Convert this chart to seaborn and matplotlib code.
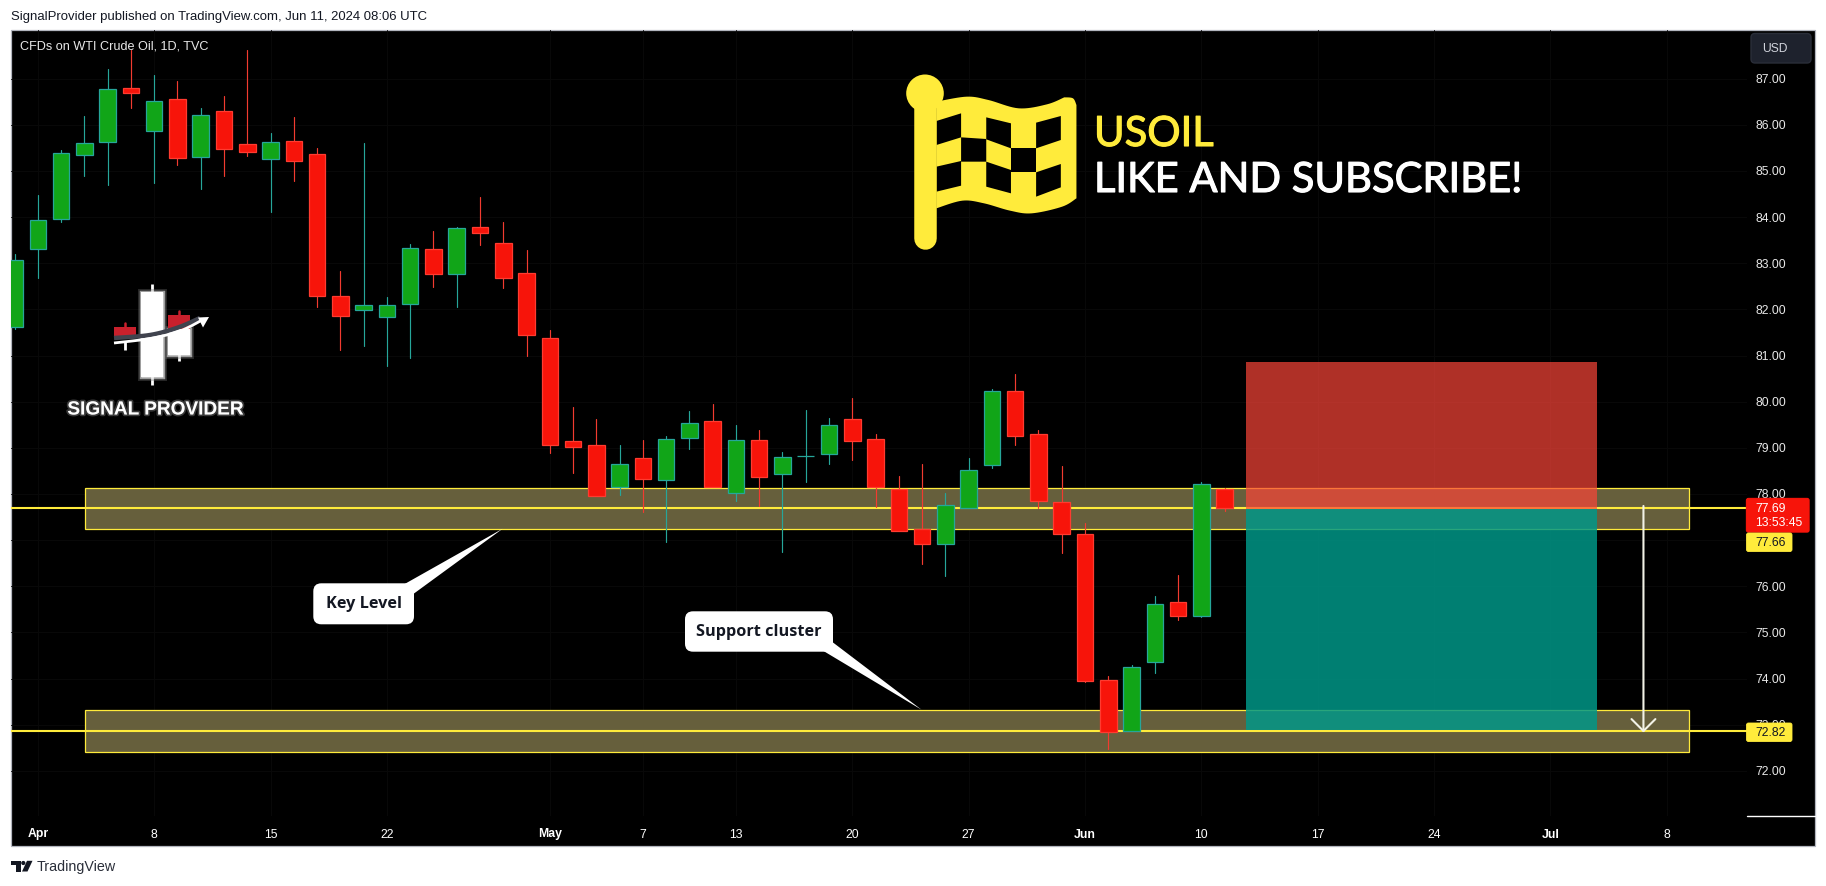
import numpy as np
import pandas as pd
import matplotlib
matplotlib.use("Agg")
import matplotlib.pyplot as plt
import matplotlib.patheffects as pe
from matplotlib.patches import Rectangle, FancyBboxPatch, Polygon, Circle
import seaborn as sns

# ---- data -----------------------------------------------------------------
bar_index = list(range(-6, 47))
body_top = [83.08, 83.93, 85.40, 85.60, 86.77, 86.79, 86.51, 86.55, 86.21, 86.29,
            85.58, 85.62, 85.66, 85.36, 82.28, 82.09, 82.09, 83.34, 83.32, 83.76,
            83.78, 83.45, 82.78, 81.39, 79.14, 79.07, 78.64, 78.79, 79.20, 79.53,
            79.59, 79.16, 79.18, 78.81, 78.83, 79.49, 79.62, 79.20, 78.10, 77.25,
            77.77, 78.53, 80.24, 80.24, 79.29, 77.82, 77.14, 73.96, 74.26, 75.61,
            75.65, 78.21, 78.10]
body_bot = [81.62, 83.30, 83.97, 85.35, 85.63, 86.68, 85.87, 85.29, 85.31, 85.48,
            85.42, 85.27, 85.22, 82.28, 81.86, 81.99, 81.84, 82.12, 82.77, 82.77,
            83.66, 82.67, 81.45, 79.07, 79.02, 77.95, 78.16, 78.33, 78.31, 79.22,
            78.16, 78.03, 78.37, 78.44, 78.83, 78.87, 79.15, 78.16, 77.20, 76.92,
            76.92, 77.70, 78.63, 79.26, 77.84, 77.14, 73.95, 72.85, 72.86, 74.35,
            75.36, 75.36, 77.70]
high = [83.20, 84.48, 85.45, 86.19, 87.21, 87.62, 87.08, 86.95, 86.36, 86.62,
        87.62, 85.82, 86.17, 85.50, 82.83, 85.60, 82.27, 83.42, 83.70, 83.78,
        84.44, 83.90, 83.29, 81.55, 79.88, 79.62, 79.07, 79.17, 79.25, 79.80,
        79.95, 79.49, 79.38, 78.91, 79.83, 79.64, 80.09, 79.30, 78.39, 78.65,
        78.03, 78.77, 80.27, 80.60, 79.38, 78.60, 77.36, 74.05, 74.29, 75.79,
        76.24, 78.26, 78.14]
low = [81.57, 82.67, 83.90, 84.89, 84.70, 86.37, 84.75, 85.13, 84.61, 84.89,
       85.33, 84.11, 84.78, 82.05, 81.12, 81.21, 80.77, 80.95, 82.48, 82.05,
       83.40, 82.46, 80.99, 78.89, 78.46, 77.95, 77.98, 77.61, 76.96, 78.97,
       78.16, 77.85, 77.74, 76.75, 78.26, 78.65, 78.73, 77.72, 77.20, 76.48,
       76.22, 77.70, 78.57, 79.06, 77.70, 76.73, 73.93, 72.47, 72.86, 74.12,
       75.27, 75.34, 77.62]
direction = (["up"] * 5 + ["down"] + ["up", "down", "up", "down", "down", "up", "down",
             "down", "down", "up", "up", "up", "down", "up", "down", "down", "down",
             "down", "down", "down", "up", "down", "up", "up", "down", "up", "down",
             "up", "up", "up", "down", "down", "down", "down", "up", "up", "up", "down",
             "down", "down", "down", "down", "up", "up", "down", "up", "down"])

tick_index = [-5, 0, 5, 10, 17, 21, 25, 30, 35, 40, 45, 50, 55, 60, 65]
tick_text = ["Apr", "8", "15", "22", "May", "7", "13", "20", "27", "Jun", "10", "17", "24", "Jul", "8"]
month_text = ["Apr", "May", "Jun", "Jul"]
price_ticks = list(range(72, 88))

key_level = 77.70
support_level = 72.86
key_zone = (77.25, 78.14)
support_zone = (72.40, 73.31)
zone_bars = (-2.96, 65.97)
position_bars = (46.94, 62.0)
stop_price = 80.86
entry_price = 77.67
target_price = 72.88
arrow_bar = 64
arrow_prices = (77.74, 72.83)

# ---- palette ----------------------------------------------------------------
W, H = 1826, 886
RED, RED_EDGE, RED_WICK = "#F7140A", "#FF3B30", "#F23B30"
GREEN, GREEN_EDGE, GREEN_WICK = "#11A518", "#26A69A", "#26A69A"
YELLOW = "#FFEB3B"
ZONE = "#665F3C"

sns.set_theme(style="dark", rc={"axes.grid": True})
plt.rcParams["font.family"] = ["Liberation Sans", "DejaVu Sans"]

fig = plt.figure(figsize=(W / 100, H / 100), dpi=100, facecolor="white")

# pane frame ------------------------------------------------------------------
bg = fig.add_axes([0, 0, 1, 1], zorder=0)
bg.set_xlim(0, W); bg.set_ylim(H, 0); bg.axis("off")
bg.add_patch(Rectangle((11, 30), 1804, 816, fc="black", ec="#B2B5BE", lw=0.9))

# main price pane -------------------------------------------------------------
ax = fig.add_axes([11 / W, 1 - 816 / H, 1736 / W, 786 / H], zorder=1)
ax.set_facecolor("black")
ax.patch.set_alpha(0)
ax.set_xlim(-6.154, 68.45)
ax.set_ylim(71.02, 88.056)
ax.grid(True, color="#090909", lw=0.7)
ax.set_axisbelow(True)

# levels, zones, position
for lo, hi in (key_zone, support_zone):
    ax.add_patch(Rectangle((zone_bars[0], lo), zone_bars[1] - zone_bars[0], hi - lo,
                           fc=ZONE, ec=YELLOW, lw=0.9, zorder=1.5))
for lvl in (key_level, support_level):
    ax.axhline(lvl, color=YELLOW, lw=1.5, zorder=1.6)
ax.add_patch(Rectangle((position_bars[0], entry_price), position_bars[1] - position_bars[0],
                       stop_price - entry_price, fc="#FB4539", alpha=0.70, ec="none", zorder=1.8))
ax.add_patch(Rectangle((position_bars[0], target_price), position_bars[1] - position_bars[0],
                       entry_price - target_price, fc="#009889", alpha=0.84, ec="none", zorder=1.8))

# candles
df = pd.DataFrame({"bar": bar_index, "top": body_top, "bot": body_bot,
                   "high": high, "low": low, "direction": direction})
wicks = df.melt(id_vars=["bar", "direction"], value_vars=["high", "low"], value_name="price")
sns.lineplot(data=wicks, x="bar", y="price", hue="direction", units="bar", estimator=None,
             palette={"up": GREEN_WICK, "down": RED_WICK}, lw=0.85, legend=False,
             sort=False, ax=ax, zorder=3)
for key, fc, ec in (("up", GREEN, GREEN_EDGE), ("down", RED, RED_EDGE)):
    d = df[df.direction == key]
    ax.bar(d.bar, d.top - d.bot, bottom=d.bot, width=0.71, color=fc, edgecolor=ec,
           linewidth=0.9, zorder=4)

# arrow
ax.annotate("", xy=(arrow_bar, arrow_prices[1]), xytext=(arrow_bar, arrow_prices[0]),
            arrowprops=dict(arrowstyle="->,head_length=0.86,head_width=0.86", color="#F2F2E6",
                            lw=1.5, shrinkA=0, shrinkB=0, mutation_scale=10), zorder=5)

# axes ------------------------------------------------------------------------
ax.set_xticks(tick_index)
ax.set_xticklabels(tick_text)
for lab in ax.get_xticklabels():
    lab.set_color("white"); lab.set_fontsize(8.8)
    if lab.get_text() in month_text:
        lab.set_fontweight("bold")
ax.yaxis.tick_right()
ax.set_yticks(price_ticks)
ax.set_yticklabels([f"{p:.2f}" for p in price_ticks])
ax.tick_params(axis="y", length=0, pad=6.3, labelsize=8.7, labelcolor="#E8E8E8")
ax.tick_params(axis="x", length=0, pad=9)
ax.set_xlabel(""); ax.set_ylabel("")
sns.despine(ax=ax, left=True, bottom=True, right=True, top=True)

# overlay in pixel coordinates ---------------------------------------------------
ov = fig.add_axes([0, 0, 1, 1], zorder=2)
ov.set_xlim(0, W); ov.set_ylim(H, 0); ov.axis("off"); ov.patch.set_alpha(0)

ov.text(11, 16.5, "SignalProvider published on TradingView.com, Jun 11, 2024 08:06 UTC",
        fontsize=9.43, color="#131722", va="center")
ov.text(20.5, 46.7, "CFDs on WTI Crude Oil, 1D, TVC", fontsize=9.13, color="#E8E8E8", va="center")
ov.plot([1747, 1815], [815.5, 815.5], color="white", lw=1)

# currency button
ov.add_patch(FancyBboxPatch((1753, 35.5), 56, 25.5, boxstyle="round,pad=2,rounding_size=4",
                            fc="#1E222D", ec="#2A2E39", lw=1))
ov.text(1762, 48.7, "USD", color="#D1D4DC", fontsize=8.7, va="center")

# price labels
ov.add_patch(FancyBboxPatch((1747, 499), 61.5, 32.5, boxstyle="round,pad=0.6,rounding_size=2",
                            fc=RED, ec=RED, lw=0.8))
ov.text(1755.6, 508.5, "77.69", color="white", fontsize=8.7, va="center")
ov.text(1755.6, 522.8, "13:53:45", color="white", fontsize=8.7, va="center")
for y0, txt in ((533.5, "77.66"), (723.5, "72.82")):
    ov.add_patch(FancyBboxPatch((1747, y0), 44.5, 17.5, boxstyle="round,pad=0.5,rounding_size=2",
                                fc=YELLOW, ec=YELLOW, lw=0.6))
    ov.text(1755.6, y0 + 9, txt, color="#131722", fontsize=8.7, va="center")


# callouts
def callout(x0, y0, x1, y1, tail, text):
    ov.add_patch(Polygon(tail, closed=True, fc="white", ec="none"))
    ov.add_patch(FancyBboxPatch((x0 + 1, y0 + 1), x1 - x0 - 2, y1 - y0 - 2,
                                boxstyle="round,pad=1,rounding_size=8", fc="white", ec="none"))
    ov.text((x0 + x1) / 2, (y0 + y1) / 2, text, color="#131722", fontsize=11.7, fontweight="bold",
            ha="center", va="center", family=["Open Sans", "DejaVu Sans"])


callout(313.3, 583.3, 414, 624.3, [(405, 583.8), (414, 593.5), (502.7, 528.7)], "Key Level")
callout(685, 611.3, 833, 651.7, [(823.5, 651), (833, 642.5), (921.5, 709.7)], "Support cluster")


# flag logo --------------------------------------------------------------------
def smooth(points, n=10):
    p = np.array(points, float)
    q = np.vstack([p[0], p, p[-1]])
    out = []
    for i in range(1, len(q) - 2):
        for t in np.linspace(0, 1, n, endpoint=False):
            out.append(0.5 * ((2 * q[i]) + (-q[i - 1] + q[i + 1]) * t
                              + (2 * q[i - 1] - 5 * q[i] + 4 * q[i + 1] - q[i + 2]) * t ** 2
                              + (-q[i - 1] + 3 * q[i] - 3 * q[i + 1] + q[i + 2]) * t ** 3))
    out.append(p[-1])
    return np.array(out)


def fz(pts):
    a = np.array(pts, float)
    return np.column_stack([880 + a[:, 0] / 2.306, 50 + a[:, 1] / 3])


top_edge = smooth(fz([(130, 155), (200, 140), (250, 150), (320, 175), (385, 163), (425, 142)]))
bot_edge = smooth(fz([(453, 445), (420, 470), (350, 490), (300, 482), (240, 460), (190, 452), (130, 475)]))
corner = smooth(fz([(425, 142), (445, 145), (453, 165)]))
outline = np.vstack([top_edge, corner, bot_edge])
ov.add_patch(Polygon(outline, closed=True, fc=YELLOW, ec="none"))
ov.add_patch(Circle((925, 93.3), 18.8, fc=YELLOW, ec="none"))
ov.plot([925.1, 925.1], fz([(0, 150), (0, 563)])[:, 1], color=YELLOW, lw=16.2, solid_capstyle="round")
cells = [[(130, 213), (187, 190), (187, 262), (130, 285)],
         [(245, 202), (302, 220), (302, 295), (245, 268)],
         [(360, 218), (417, 198), (417, 270), (360, 295)],
         [(187, 262), (245, 267), (245, 335), (187, 335)],
         [(302, 295), (360, 295), (360, 365), (302, 365)],
         [(130, 350), (187, 333), (187, 407), (130, 425)],
         [(245, 335), (302, 360), (302, 430), (245, 410)],
         [(360, 367), (417, 342), (417, 412), (360, 440)]]
for c in cells:
    ov.add_patch(Polygon(fz(c), closed=True, fc="black", ec="none"))
bold_y = [pe.withStroke(linewidth=0.8, foreground=YELLOW)]
bold_w = [pe.withStroke(linewidth=0.8, foreground="white")]
ov.text(1094, 134, "USOIL", color=YELLOW, fontsize=30, va="center",
        family=["Lato", "DejaVu Sans"], path_effects=bold_y)
ov.text(1094, 180, "LIKE AND SUBSCRIBE!", color="white", fontsize=30, va="center",
        family=["Lato", "DejaVu Sans"], path_effects=bold_w)

# signal provider logo ----------------------------------------------------------
glow = [pe.withStroke(linewidth=5, foreground="#707070", alpha=0.35),
        pe.withStroke(linewidth=2.5, foreground="white", alpha=0.55)]
LOGO_RED = "#C8202C"
ov.plot([152, 152], [284, 385], color="white", lw=2, solid_capstyle="butt", zorder=1)
ov.plot([125, 125], [342, 350], color="white", lw=2, solid_capstyle="butt", zorder=1)
ov.plot([178.5, 178.5], [350, 360.7], color="white", lw=2, solid_capstyle="butt", zorder=1)
ov.add_patch(Rectangle((141, 291.7), 22.3, 85, fc="white", ec="none", path_effects=glow, zorder=1.1))
ov.add_patch(Rectangle((167.7, 329), 22.3, 26.3, fc="white", ec="none", path_effects=glow, zorder=1.1))
ov.add_patch(Rectangle((114.3, 326.7), 21.7, 10.6, fc=LOGO_RED, ec="none", zorder=1.2))
ov.plot([125, 125], [322.7, 327], color=LOGO_RED, lw=1.8, zorder=1.2)
ov.add_patch(Rectangle((167.7, 315), 22.3, 14.3, fc=LOGO_RED, ec="none", zorder=1.2))
ov.plot([178.5, 178.5], [311, 315], color=LOGO_RED, lw=1.8, zorder=1.2)
sw_dark = smooth([(114, 338), (150, 335), (178, 327.5), (200, 318)])
sw_white = smooth([(114, 343), (150, 338.5), (180, 331), (204, 319)])
ov.plot(sw_dark[:, 0], sw_dark[:, 1], color="#40434E", lw=3.2, solid_capstyle="butt", zorder=1.3)
ov.plot(sw_white[:, 0], sw_white[:, 1], color="white", lw=2, solid_capstyle="butt", zorder=1.4)
ov.add_patch(Polygon([(209, 317), (198, 317.5), (203, 327.5)], closed=True, fc="white", ec="none", zorder=1.4))
ov.text(155, 410, "SIGNAL PROVIDER", color="white", fontsize=13.7, fontweight="bold",
        ha="center", va="center", path_effects=[pe.withStroke(linewidth=2.5, foreground="#808080", alpha=0.45)])

# footer mark
ov.add_patch(Polygon([(11, 860.8), (20.5, 860.8), (20.5, 871.5), (15.5, 871.5), (15.5, 865), (11, 865)],
                     closed=True, fc="#131722", ec="none"))
ov.add_patch(Circle((23.3, 863), 2.1, fc="#131722", ec="none"))
ov.add_patch(Polygon([(27, 860.8), (32.5, 860.8), (27.5, 871.5), (22, 871.5)], closed=True, fc="#131722", ec="none"))
ov.text(36.3, 867.5, "TradingView", color="#2A2E39", fontsize=10.3, va="center")

fig.savefig("out.png", dpi=100, facecolor="white")
